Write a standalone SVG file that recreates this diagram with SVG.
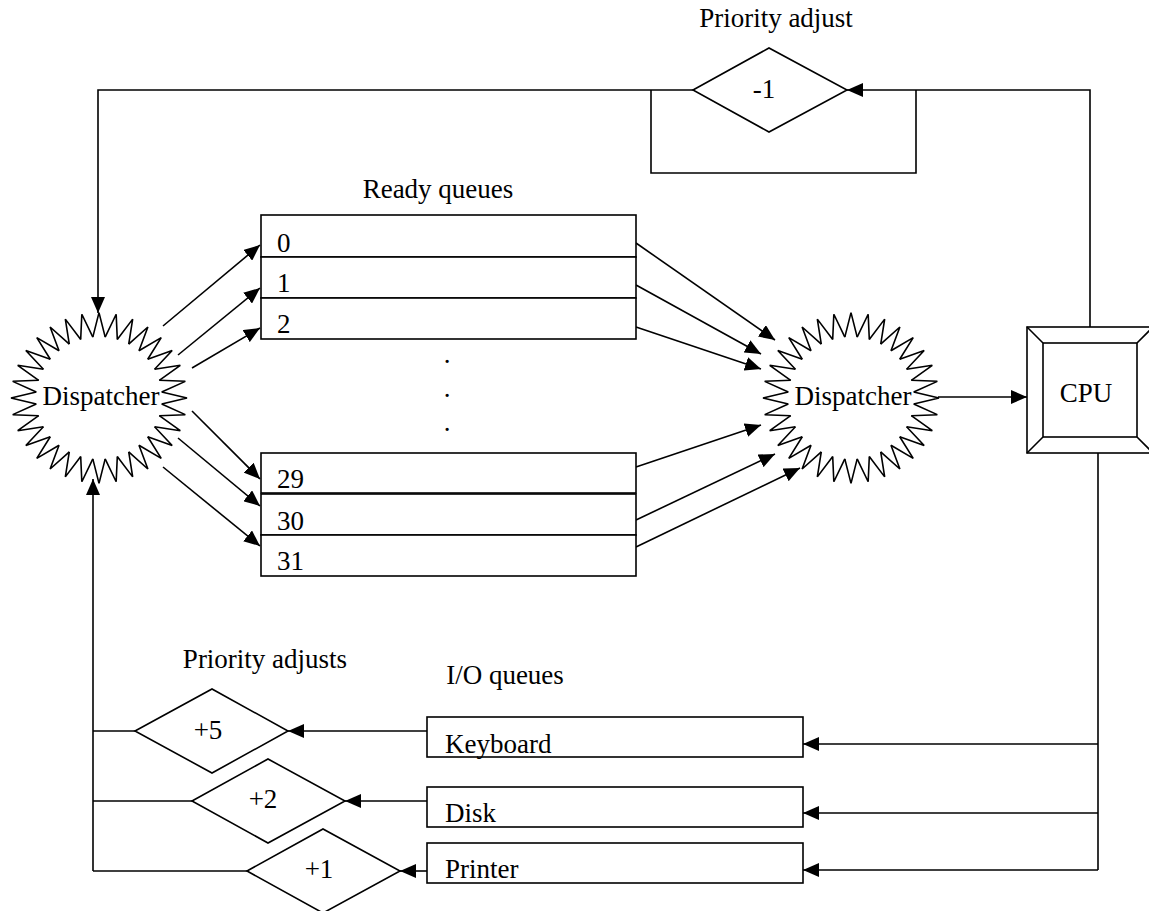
<svg xmlns="http://www.w3.org/2000/svg" width="1149" height="911" viewBox="0 0 1149 911">
  <style>
    .ln { fill: none; stroke: #000; stroke-width: 1.6; }
    .box { fill: #fff; stroke: #000; stroke-width: 1.6; }
    .arr { fill: none; stroke: #000; stroke-width: 1.6; marker-end: url(#head); }
    text { font-family: "Liberation Serif", "Times New Roman", serif; font-size: 27px; fill: #000; }
    .mid { text-anchor: middle; }
  </style>
  <defs>
    <marker id="head" viewBox="0 0 16 14" refX="16" refY="7" markerWidth="16" markerHeight="14" markerUnits="userSpaceOnUse" orient="auto">
      <path d="M0,0 L16,7 L0,14 z" fill="#000"/>
    </marker>
    <!-- one spike of the starburst, pointing right -->
    <polyline id="spike" points="62.7,-6.2 88,0 62.7,6.2" fill="none" stroke="#000" stroke-width="1.6" stroke-linejoin="miter"/>
    <g id="star">
      <use href="#spike" transform="rotate(0)"/>
      <use href="#spike" transform="rotate(11.25)"/>
      <use href="#spike" transform="rotate(22.5)"/>
      <use href="#spike" transform="rotate(33.75)"/>
      <use href="#spike" transform="rotate(45)"/>
      <use href="#spike" transform="rotate(56.25)"/>
      <use href="#spike" transform="rotate(67.5)"/>
      <use href="#spike" transform="rotate(78.75)"/>
      <use href="#spike" transform="rotate(90)"/>
      <use href="#spike" transform="rotate(101.25)"/>
      <use href="#spike" transform="rotate(112.5)"/>
      <use href="#spike" transform="rotate(123.75)"/>
      <use href="#spike" transform="rotate(135)"/>
      <use href="#spike" transform="rotate(146.25)"/>
      <use href="#spike" transform="rotate(157.5)"/>
      <use href="#spike" transform="rotate(168.75)"/>
      <use href="#spike" transform="rotate(180)"/>
      <use href="#spike" transform="rotate(191.25)"/>
      <use href="#spike" transform="rotate(202.5)"/>
      <use href="#spike" transform="rotate(213.75)"/>
      <use href="#spike" transform="rotate(225)"/>
      <use href="#spike" transform="rotate(236.25)"/>
      <use href="#spike" transform="rotate(247.5)"/>
      <use href="#spike" transform="rotate(258.75)"/>
      <use href="#spike" transform="rotate(270)"/>
      <use href="#spike" transform="rotate(281.25)"/>
      <use href="#spike" transform="rotate(292.5)"/>
      <use href="#spike" transform="rotate(303.75)"/>
      <use href="#spike" transform="rotate(315)"/>
      <use href="#spike" transform="rotate(326.25)"/>
      <use href="#spike" transform="rotate(337.5)"/>
      <use href="#spike" transform="rotate(348.75)"/>
    </g>
  </defs>

  <rect width="1149" height="911" fill="#fff"/>

  <!-- captions -->
  <text class="mid" x="776" y="27">Priority adjust</text>
  <text class="mid" x="438" y="198">Ready queues</text>
  <text class="mid" x="265" y="668">Priority adjusts</text>
  <text class="mid" x="505" y="684">I/O queues</text>

  <!-- connectors -->
  <g id="connectors">
    <!-- CPU back to dispatcher through the -1 adjust -->
    <path class="arr" d="M1090,327 V90 H847"/>
    <path class="arr" d="M693,90 H98 V313"/>
    <path class="ln" d="M651,90 V173 H916 V90"/>
    <!-- dispatcher to ready queues -->
    <path class="arr" d="M163,326 L260,245"/>
    <path class="arr" d="M178,355 L260,288"/>
    <path class="arr" d="M192,368 L260,328"/>
    <path class="arr" d="M192,411 L260,479"/>
    <path class="arr" d="M178,438 L260,506"/>
    <path class="arr" d="M163,467 L260,546"/>
    <!-- ready queues to dispatcher -->
    <path class="arr" d="M636,243 L775,340"/>
    <path class="arr" d="M636,285 L761,354"/>
    <path class="arr" d="M636,327 L761,369"/>
    <path class="arr" d="M636,467 L761,425"/>
    <path class="arr" d="M636,520 L775,454"/>
    <path class="arr" d="M636,547 L800,468"/>
    <!-- dispatcher to CPU -->
    <path class="arr" d="M938,397 H1027"/>
    <!-- CPU to I/O queues -->
    <path class="ln" d="M1098,453 V870"/>
    <path class="arr" d="M1098,744 H803"/>
    <path class="arr" d="M1098,813 H803"/>
    <path class="arr" d="M1098,870 H803"/>
    <!-- I/O queues to priority adjusts -->
    <path class="arr" d="M427,731 H288"/>
    <path class="arr" d="M427,801 H345"/>
    <path class="arr" d="M427,871 H400"/>
    <!-- priority adjusts back to dispatcher -->
    <path class="ln" d="M135,731 H93"/>
    <path class="ln" d="M192,801 H93"/>
    <path class="ln" d="M247,871 H93"/>
    <path class="arr" d="M93,871 V479"/>
  </g>

  <!-- -1 adjust -->
  <g id="adjust-minus1">
    <polygon class="box" points="693,90 769,48 847,90 769,132"/>
    <text class="mid" x="764" y="98">-1</text>
  </g>

  <!-- dispatchers -->
  <g id="dispatcher-left">
    <use href="#star" transform="translate(99,398) scale(1,0.97)"/>
    <text class="mid" x="101" y="405">Dispatcher</text>
  </g>
  <g id="dispatcher-right">
    <use href="#star" transform="translate(851,398) scale(1,0.97)"/>
    <text class="mid" x="853" y="405">Dispatcher</text>
  </g>

  <!-- ready queues -->
  <g id="queue-0"><rect class="box" x="261" y="215" width="375" height="42"/><text x="277" y="252">0</text></g>
  <g id="queue-1"><rect class="box" x="261" y="257" width="375" height="41"/><text x="277" y="292">1</text></g>
  <g id="queue-2"><rect class="box" x="261" y="298" width="375" height="41"/><text x="277" y="333">2</text></g>
  <g id="queue-dots">
    <text class="mid" x="447" y="363">.</text>
    <text class="mid" x="447" y="397">.</text>
    <text class="mid" x="447" y="431">.</text>
  </g>
  <g id="queue-29"><rect class="box" x="261" y="453" width="375" height="40"/><text x="277" y="488">29</text></g>
  <g id="queue-30"><rect class="box" x="261" y="494" width="375" height="41"/><text x="277" y="530">30</text></g>
  <g id="queue-31"><rect class="box" x="261" y="535" width="375" height="41"/><text x="277" y="570">31</text></g>

  <!-- CPU -->
  <g id="cpu">
    <rect class="box" x="1027" y="327" width="126" height="126"/>
    <rect class="box" x="1043" y="343" width="94" height="94"/>
    <path class="ln" d="M1027,327 L1043,343 M1153,327 L1137,343 M1027,453 L1043,437 M1153,453 L1137,437"/>
    <text class="mid" x="1086" y="402">CPU</text>
  </g>

  <!-- I/O queues -->
  <g id="io-keyboard"><rect class="box" x="427" y="717" width="376" height="40"/><text x="445" y="753">Keyboard</text></g>
  <g id="io-disk"><rect class="box" x="427" y="787" width="376" height="40"/><text x="445" y="822">Disk</text></g>
  <g id="io-printer"><rect class="box" x="427" y="843" width="376" height="40"/><text x="445" y="878">Printer</text></g>

  <!-- priority adjusts -->
  <g id="adjust-plus5">
    <polygon class="box" points="135,731 212,689 288,731 212,773"/>
    <text class="mid" x="208" y="739">+5</text>
  </g>
  <g id="adjust-plus2">
    <polygon class="box" points="192,801 268,759 345,801 268,843"/>
    <text class="mid" x="263" y="808">+2</text>
  </g>
  <g id="adjust-plus1">
    <polygon class="box" points="247,871 323,829 400,871 323,913"/>
    <text class="mid" x="319" y="878">+1</text>
  </g>
</svg>
